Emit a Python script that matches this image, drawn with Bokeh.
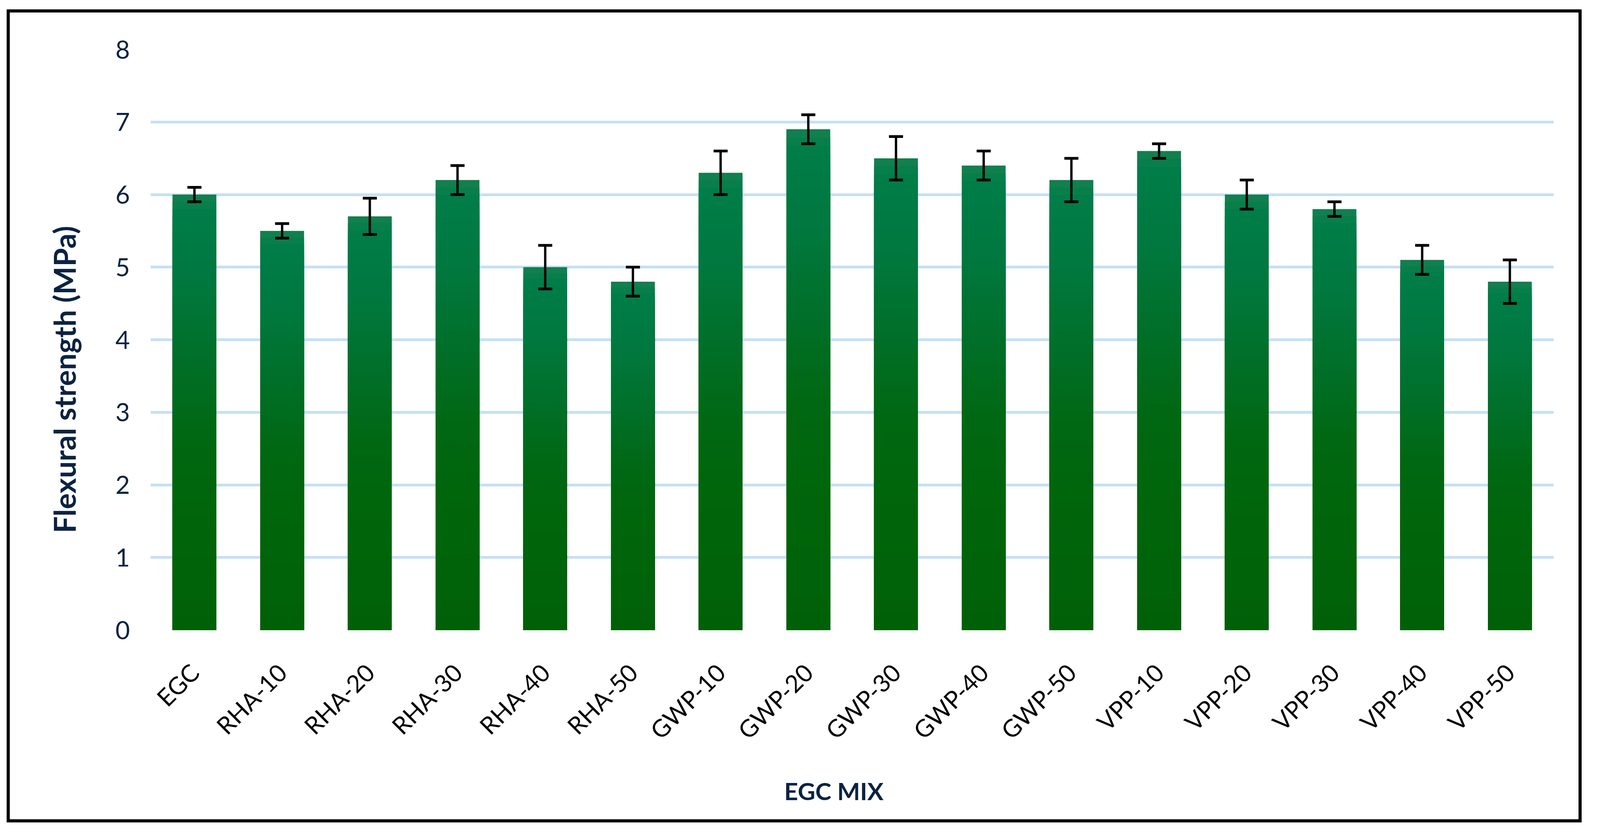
import numpy as np
from bokeh.plotting import figure
from bokeh.models import ColumnDataSource, Whisker, TeeHead, FactorRange, FixedTicker, Title
from bokeh.embed import file_html
from bokeh.resources import INLINE

# ---- data ----
mixes = ["EGC", "RHA-10", "RHA-20", "RHA-30", "RHA-40", "RHA-50",
         "GWP-10", "GWP-20", "GWP-30", "GWP-40", "GWP-50",
         "VPP-10", "VPP-20", "VPP-30", "VPP-40", "VPP-50"]
strength = [6.0, 5.5, 5.7, 6.2, 5.0, 4.8, 6.3, 6.9, 6.5, 6.4, 6.2, 6.6, 6.0, 5.8, 5.1, 4.8]
error = [0.1, 0.1, 0.25, 0.2, 0.3, 0.2, 0.3, 0.2, 0.3, 0.2, 0.3, 0.1, 0.2, 0.1, 0.2, 0.3]
y_ticks = [0, 1, 2, 3, 4, 5, 6, 7, 8]
x_title = "EGC MIX"
y_title = "Flexural strength (MPa)"

# ---- style ----
NAVY = "#0b2341"
FONT = "Lato"
GRID = "#c5e0f5"
W, H = 4032, 2081

stops_t = [0.0, 0.25, 0.45, 0.6, 0.8, 0.96, 1.0]
stops_c = [(0, 96, 8), (0, 101, 10), (0, 104, 18), (0, 110, 38), (0, 120, 62), (0, 125, 72), (22, 128, 80)]

def grad_color(t):
    r = np.interp(t, stops_t, [c[0] for c in stops_c])
    g = np.interp(t, stops_t, [c[1] for c in stops_c])
    b = np.interp(t, stops_t, [c[2] for c in stops_c])
    return "#%02x%02x%02x" % (int(round(r)), int(round(g)), int(round(b)))

N = 60
xs, tops, cols = [], [], []
for k in range(N - 1, -1, -1):
    c = grad_color((k + 0.5) / N)
    for m, v in zip(mixes, strength):
        xs.append(m)
        tops.append(v * (k + 1) / N)
        cols.append(c)
bar_src = ColumnDataSource(dict(x=xs, top=tops, color=cols))

p = figure(
    x_range=FactorRange(factors=mixes, range_padding=0),
    y_range=(0, 8),
    width=W, height=H,
    output_backend="svg", toolbar_location=None,
    min_border_left=360, min_border_right=80, min_border_top=94, min_border_bottom=501,
)
p.styles = {"border": "8px solid black", "margin-left": "17px", "margin-top": "24px"}
p.background_fill_color = "white"
p.border_fill_color = "white"
p.outline_line_color = None

p.vbar(x="x", top="top", bottom=0, width=0.5, source=bar_src,
       fill_color="color", line_color=None)

err_src = ColumnDataSource(dict(
    x=mixes,
    upper=[v + e for v, e in zip(strength, error)],
    lower=[v - e for v, e in zip(strength, error)],
))
w = Whisker(base="x", upper="upper", lower="lower", source=err_src,
            line_color="black", line_width=6, level="overlay",
            upper_head=TeeHead(size=36, line_width=7, line_color="black"),
            lower_head=TeeHead(size=36, line_width=7, line_color="black"))
p.add_layout(w)

p.xgrid.grid_line_color = None
p.ygrid.grid_line_color = GRID
p.ygrid.grid_line_width = 7
p.ygrid.ticker = FixedTicker(ticks=y_ticks)
p.ygrid.level = "underlay"

p.yaxis.ticker = FixedTicker(ticks=y_ticks)
p.yaxis.axis_line_color = None
p.yaxis.major_tick_line_color = None
p.yaxis.minor_tick_line_color = None
p.yaxis.major_label_text_font = FONT
p.yaxis.major_label_text_font_size = "64px"
p.yaxis.major_label_text_color = NAVY
p.yaxis.major_label_standoff = 47

p.xaxis.axis_line_color = None
p.xaxis.major_tick_line_color = None
p.xaxis.minor_tick_line_color = None
p.xaxis.major_label_orientation = np.pi / 4
p.xaxis.major_label_text_font = FONT
p.xaxis.major_label_text_font_size = "62px"
p.xaxis.major_label_text_color = "black"
p.xaxis.major_label_standoff = 91

# axis titles as side titles (so they can be offset like the original)
yt = Title(text=y_title, align="left", offset=248, standoff=166,
           text_font=FONT, text_font_size="76px", text_font_style="bold",
           text_color=NAVY)
p.add_layout(yt, "left")
xt = Title(text=x_title, align="left", offset=1622, standoff=100,
           text_font=FONT, text_font_size="62px", text_font_style="bold",
           text_color=NAVY)
p.add_layout(xt, "below")

open("out.html", "w").write(file_html(p, INLINE))
